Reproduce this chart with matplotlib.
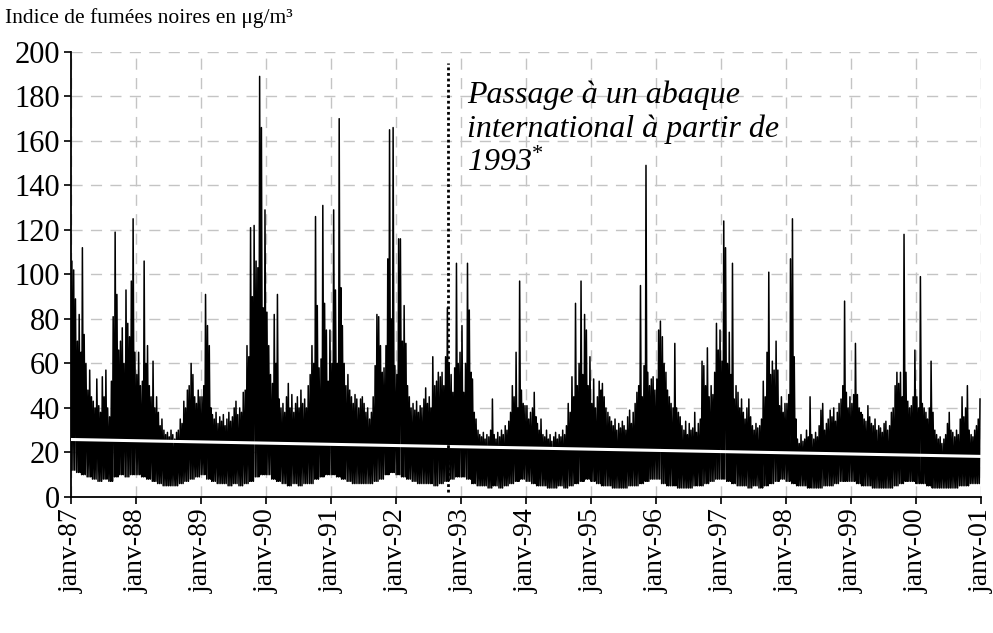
import matplotlib

matplotlib.use("Agg")
import matplotlib.pyplot as plt
import pandas as pd

# Black smoke index: for every 10-day period of each
# year, the highest value seen (36 per year), and one low value per month.
YEARS = list(range(1987, 2001))

hi_87 = [106, 102, 89, 70, 82, 65, 112, 73, 60, 48, 57, 45, 43, 40, 53, 41, 38, 54,
         45, 57, 40, 36, 52, 81, 119, 91, 66, 70, 76, 60, 93, 78, 72, 97, 125, 65]
hi_88 = [55, 65, 50, 52, 106, 60, 68, 50, 45, 61, 40, 45, 38, 32, 35, 30, 28, 29,
         27, 30, 28, 26, 29, 30, 35, 33, 43, 40, 48, 50, 60, 55, 45, 42, 48, 45]
hi_89 = [45, 50, 91, 77, 68, 40, 37, 35, 38, 33, 36, 34, 37, 32, 35, 38, 34, 36,
         40, 43, 37, 40, 38, 47, 48, 68, 63, 121, 90, 122, 106, 103, 189, 166, 85, 129]
hi_90 = [83, 68, 55, 51, 82, 60, 91, 44, 40, 42, 38, 45, 51, 40, 46, 38, 42, 45,
         40, 48, 42, 44, 40, 50, 55, 68, 60, 126, 86, 58, 62, 131, 87, 75, 52, 75]
hi_91 = [60, 129, 93, 60, 170, 94, 77, 60, 50, 55, 48, 45, 42, 46, 44, 40, 44, 45,
         42, 38, 40, 35, 38, 45, 59, 82, 81, 68, 56, 58, 68, 107, 165, 80, 166, 59]
hi_92 = [55, 116, 116, 70, 86, 69, 50, 45, 40, 42, 39, 43, 38, 41, 40, 44, 49, 42,
         45, 40, 63, 50, 52, 56, 54, 56, 50, 63, 85, 60, 55, 47, 58, 105, 60, 65]
hi_93 = [77, 47, 60, 105, 84, 56, 53, 38, 35, 30, 28, 27, 29, 26, 28, 27, 30, 44,
         28, 26, 29, 27, 30, 28, 32, 30, 34, 38, 50, 45, 65, 40, 97, 48, 42, 41]
hi_94 = [41, 35, 38, 40, 47, 36, 33, 30, 35, 28, 27, 30, 26, 28, 25, 27, 29, 26,
         28, 27, 30, 28, 32, 42, 38, 54, 45, 87, 50, 60, 97, 55, 82, 75, 50, 63]
hi_95 = [42, 53, 40, 45, 52, 48, 51, 45, 40, 38, 36, 34, 32, 35, 30, 33, 31, 34,
         32, 30, 36, 39, 33, 38, 42, 47, 50, 95, 45, 59, 149, 56, 50, 53, 54, 48]
hi_96 = [53, 75, 79, 72, 60, 56, 48, 45, 42, 40, 69, 40, 38, 36, 32, 30, 34, 28,
         33, 30, 31, 38, 29, 33, 35, 61, 59, 50, 67, 45, 50, 46, 56, 78, 66, 75]
hi_97 = [61, 124, 112, 60, 74, 55, 105, 44, 50, 47, 40, 44, 38, 35, 40, 44, 36, 32,
         30, 33, 31, 32, 35, 52, 45, 65, 101, 55, 61, 57, 70, 57, 41, 45, 38, 42]
hi_98 = [42, 46, 107, 125, 63, 35, 26, 24, 28, 25, 26, 30, 27, 45, 28, 26, 29, 27,
         32, 39, 42, 30, 33, 35, 39, 36, 40, 34, 38, 42, 44, 50, 88, 47, 40, 45]
hi_99 = [42, 46, 69, 46, 40, 38, 37, 35, 34, 41, 36, 33, 32, 35, 30, 32, 31, 29,
         33, 34, 30, 32, 38, 40, 50, 56, 51, 56, 45, 118, 56, 43, 40, 41, 45, 66]
hi_00 = [45, 40, 99, 42, 40, 38, 35, 40, 61, 38, 30, 28, 26, 27, 24, 26, 28, 33,
         38, 30, 29, 27, 30, 28, 35, 45, 36, 40, 50, 30, 28, 27, 30, 32, 35, 44]

lo_87 = [12, 11, 10, 9, 8, 7, 8, 7, 9, 10, 9, 10]
lo_88 = [10, 9, 8, 7, 6, 5, 5, 5, 6, 7, 8, 9]
lo_89 = [10, 8, 7, 6, 6, 5, 6, 5, 6, 7, 9, 10]
lo_90 = [10, 8, 7, 6, 5, 6, 5, 6, 6, 8, 9, 10]
lo_91 = [10, 9, 8, 7, 6, 6, 6, 6, 7, 8, 10, 11]
lo_92 = [10, 9, 8, 7, 6, 6, 6, 5, 6, 7, 8, 9]
lo_93 = [9, 8, 6, 5, 5, 4, 5, 4, 5, 6, 7, 8]
lo_94 = [7, 6, 5, 5, 4, 4, 5, 4, 5, 6, 7, 8]
lo_95 = [7, 6, 5, 5, 4, 4, 4, 5, 5, 6, 7, 8]
lo_96 = [8, 6, 5, 5, 4, 4, 4, 5, 5, 6, 7, 8]
lo_97 = [8, 7, 6, 5, 5, 4, 5, 4, 5, 6, 7, 8]
lo_98 = [7, 6, 5, 5, 4, 4, 4, 5, 5, 6, 7, 7]
lo_99 = [7, 6, 5, 5, 4, 4, 4, 4, 5, 6, 7, 7]
lo_00 = [6, 6, 5, 4, 4, 4, 4, 4, 5, 5, 6, 6]

HIGHS = [hi_87, hi_88, hi_89, hi_90, hi_91, hi_92, hi_93,
         hi_94, hi_95, hi_96, hi_97, hi_98, hi_99, hi_00]
LOWS = [lo_87, lo_88, lo_89, lo_90, lo_91, lo_92, lo_93,
        lo_94, lo_95, lo_96, lo_97, lo_98, lo_99, lo_00]

# linear trend (white line)
TREND_DATES = ["1987-01-01", "2001-01-01"]
TREND_VALUES = [25.8, 18.2]

# change of abacus
CHANGE_DATE = "1992-10-20"
CHANGE_RANGE = [2, 195]

TICK_YEARS = list(range(1987, 2002))
TICK_LABELS = [f"janv-{y % 100:02d}" for y in TICK_YEARS]
Y_TICKS = list(range(0, 201, 20))


def build_series():
    dates, values = [], []
    for year, his, los in zip(YEARS, HIGHS, LOWS):
        for m in range(12):
            for k in range(3):
                d0 = pd.Timestamp(year, m + 1, 1 + 10 * k)
                dates += [d0 + pd.Timedelta(days=1), d0 + pd.Timedelta(days=5)]
                values += [los[m], his[3 * m + k]]
    return dates, values


def main():
    plt.rcParams["font.family"] = ["Liberation Serif", "DejaVu Serif"]
    plt.rcParams["mathtext.fontset"] = "custom"
    plt.rcParams["mathtext.rm"] = "Liberation Serif"
    plt.rcParams["mathtext.it"] = "Liberation Serif:italic"

    fig = plt.figure(figsize=(9.93, 6.33), dpi=100)
    ax = fig.add_axes([0.0715, 0.215, 0.9165, 0.703])

    dates, values = build_series()
    ax.plot(dates, values, color="black", linewidth=1.1, zorder=3)
    ax.plot(pd.to_datetime(TREND_DATES), TREND_VALUES, color="white",
            linewidth=2.2, zorder=4)
    cd = pd.Timestamp(CHANGE_DATE)
    ax.plot([cd, cd], CHANGE_RANGE, color="black", linestyle=(0, (1, 1)),
            linewidth=2, zorder=5)

    ax.text(0.435, 0.935, "Passage à un abaque\ninternational à partir de\n1993$^{*}$",
            transform=ax.transAxes, ha="left", va="top", fontsize=23,
            style="italic", linespacing=1.2, zorder=6)

    ax.set_xlim(pd.Timestamp("1987-01-01"), pd.Timestamp("2001-01-01"))
    ax.set_ylim(0, 200)
    ax.set_xticks([pd.Timestamp(y, 1, 1) for y in TICK_YEARS])
    ax.set_xticklabels(TICK_LABELS, rotation=90, fontsize=20)
    ax.set_yticks(Y_TICKS)
    ax.set_yticklabels([str(v) for v in Y_TICKS], fontsize=22)
    ax.tick_params(axis="both", direction="out", length=5, width=1.2, colors="black")
    ax.tick_params(axis="y", pad=3)
    ax.tick_params(axis="x", pad=3)

    ax.grid(True, color="#c4c4c4", linestyle=(0, (8, 6)), linewidth=1)
    ax.set_axisbelow(True)
    for side in ["top", "right"]:
        ax.spines[side].set_visible(False)
    for side in ["left", "bottom"]:
        ax.spines[side].set_linewidth(1.3)

    fig.text(0.005, 0.972, "Indice de fumées noires en μg/m³", fontsize=15.5,
             ha="left", va="center")

    fig.savefig("out.png", dpi=100)
    plt.close(fig)


if __name__ == "__main__":
    main()
